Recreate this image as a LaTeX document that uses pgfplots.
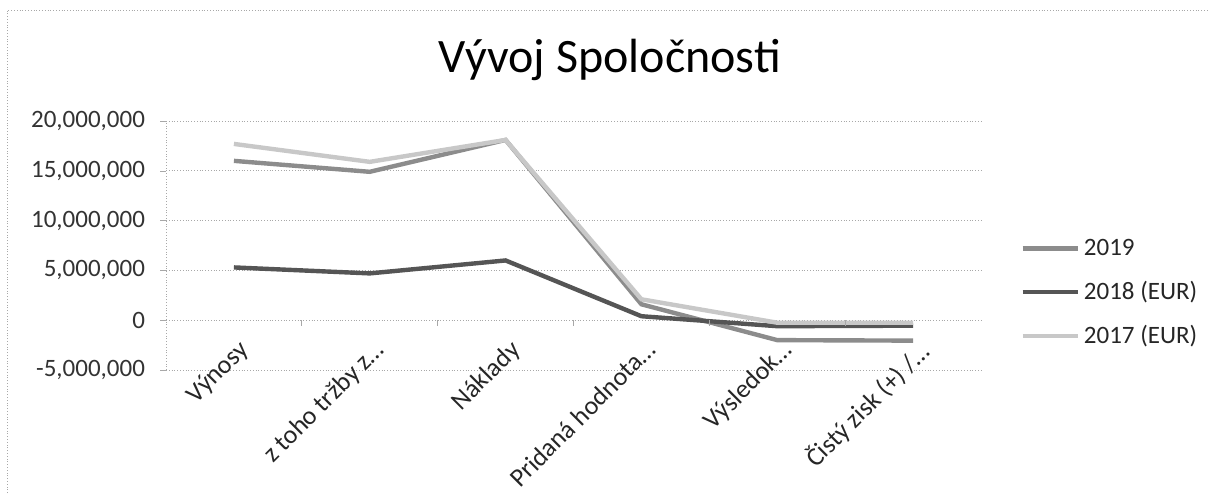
\documentclass[border=0pt]{standalone}
\usepackage{pgfplots}
\pgfplotsset{compat=1.18}
\usepackage{fontspec}
\setmainfont{Carlito}
\definecolor{c2019}{HTML}{8C8C8C}
\definecolor{c2018}{HTML}{555555}
\definecolor{c2017}{HTML}{C8C8C8}
\definecolor{gridc}{HTML}{A8A8A8}

\begin{document}
\begin{tikzpicture}
\path[use as bounding box] (0,0) rectangle (604pt,-246.5pt);
\draw[gridc, densely dotted] (3.5pt,-246.5pt) -- (3.5pt,-5pt) -- (604pt,-5pt);
\node[font=\fontsize{24}{28}\selectfont, anchor=base] at (305pt,-36pt) {Vývoj Spoločnosti};
\begin{axis}[
  at={(83pt,-185pt)}, anchor=south west,
  scale only axis, width=407.5pt, height=124.5pt,
  xmin=-0.5, xmax=5.5, ymin=-5000000, ymax=20000000,
  ytick={-5000000,0,5000000,10000000,15000000,20000000},
  scaled y ticks=false,
  /pgf/number format/fixed,
  /pgf/number format/precision=0,
  /pgf/number format/1000 sep={,},
  /pgf/number format/assume math mode=true,
  yticklabel style={font=\fontsize{12.5}{14}\selectfont, text=black!80, xshift=-4pt},
  axis y line*=left, axis x line*=bottom,
  x axis line style={draw=none},
  y axis line style={gridc, densely dotted},
  tick align=outside,
  ytick style={gridc},
  major tick length=3pt,
  xtick={0,1,2,3,4,5},
  xtick style={draw=none},
  xticklabels={Výnosy, z toho tržby z…, Náklady, Pridaná hodnota…, Výsledok…, Čistý zisk (+) /…},
  xticklabel style={font=\fontsize{13}{15}\selectfont, text=black!85, xshift=1.5pt, yshift=19pt, rotate=45, anchor=north east, inner sep=0pt},
  ymajorgrids, grid style={gridc, densely dotted},
  legend style={at={(1.048,0.31)}, anchor=west, draw=none, fill=none,
    font=\fontsize{12.5}{15}\selectfont, text=black!85, row sep=7.5pt, inner sep=0pt,
    cells={anchor=west}},
  legend image code/.code={\draw[#1] (0pt,0pt) -- (27.5pt,0pt);},
  clip=false,
]
\addplot[c2019, line width=2.2pt] coordinates {(0,16000000) (1,14900000) (2,18100000) (3,1600000) (4,-2000000) (5,-2050000)};
\addlegendentry{2019}
\addplot[c2018, line width=2.2pt] coordinates {(0,5300000) (1,4700000) (2,6000000) (3,400000) (4,-600000) (5,-550000)};
\addlegendentry{2018 (EUR)}
\addplot[c2017, line width=2.2pt] coordinates {(0,17700000) (1,15900000) (2,18100000) (3,2100000) (4,-250000) (5,-250000)};
\addlegendentry{2017 (EUR)}
\pgfplotsinvokeforeach{0.5,1.5,2.5,3.5,4.5}{\draw[gridc] (axis cs:#1,0) -- ++(0pt,-3pt);}
\end{axis}
\end{tikzpicture}
\end{document}
